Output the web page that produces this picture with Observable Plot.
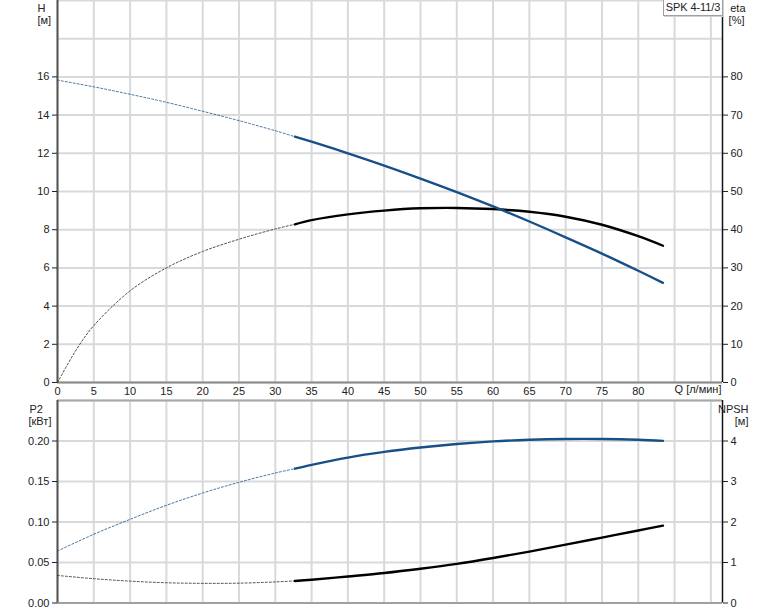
<!DOCTYPE html>
<html><head><meta charset="utf-8">
<script src="https://cdn.jsdelivr.net/npm/d3@7"></script>
<script src="https://cdn.jsdelivr.net/npm/@observablehq/plot@0.6"></script>
<style>
body{margin:0;background:#fff;}
#chart{position:relative;width:774px;height:611px;overflow:hidden;font-family:"Liberation Sans",Arial,sans-serif;}
#chart svg{position:absolute;left:0;}
#model{position:absolute;left:663px;top:-1px;width:58px;height:15px;border:1px solid #a0a0a0;background:#fff;font-size:11px;line-height:15px;text-align:center;color:#222;white-space:nowrap;letter-spacing:-0.1px;box-shadow:1px 1px 0 #d0d0d0;}
</style></head><body>
<div id="chart"><div id="model">SPK 4-11/3</div></div>
<script>
// ---- axes / ticks ----
const qMax = 91.6;
const qTicks = [0,5,10,15,20,25,30,35,40,45,50,55,60,65,70,75,80];
const qGrid = [0,5,10,15,20,25,30,35,40,45,50,55,60,65,70,75,80,85,90];
const hTicks = [0,2,4,6,8,10,12,14,16];
const hGrid = [0,2,4,6,8,10,12,14,16,18,20];
const etaTicks = [0,10,20,30,40,50,60,70,80];
const p2Ticks = [0,0.05,0.10,0.15,0.20];
const p2Grid = [0,0.05,0.10,0.15,0.20,0.25];
const npshTicks = [0,1,2,3,4];

// ---- H curve [m] ----
const hQDot = [0,5,10,15,20,25,30,32.7];
const hDot  = [15.83,15.48,15.09,14.67,14.2,13.71,13.18,12.87];
const hQ    = [32.7,35,40,45,50,55,60,65,70,75,80,83.4];
const hVal  = [12.87,12.61,12.0,11.36,10.68,9.97,9.22,8.43,7.6,6.75,5.85,5.22];

// ---- eta curve [%] ----
const etaQDot = [0,1.5,3,5,10,15,20,25,30,32.7];
const etaDot  = [0,5.1,9.8,14.9,24.0,30.0,34.3,37.5,40.2,41.4];
const etaQ    = [32.7,35,40,45,50,55,60,65,70,75,80,83.4];
const etaVal  = [41.4,42.5,44.0,45.0,45.6,45.7,45.4,44.7,43.4,41.3,38.3,35.8];

// ---- P2 curve [kW] ----
const p2QDot = [0,5,10,15,20,25,30,32.7];
const p2Dot  = [0.0642,0.0848,0.1033,0.1206,0.1358,0.149,0.1605,0.1658];
const p2Q    = [32.7,35,40,45,50,55,60,65,70,75,80,83.4];
const p2Val  = [0.1658,0.1705,0.1795,0.1865,0.192,0.1963,0.1995,0.2015,0.2025,0.2025,0.2015,0.2002];

// ---- NPSH curve [m] ----
const npshQDot = [0,5,10,15,20,25,30,32.7];
const npshDot  = [0.68,0.60,0.54,0.50,0.485,0.49,0.52,0.545];
const npshQ    = [32.7,35,40,45,50,55,60,65,70,75,80,83.4];
const npshVal  = [0.545,0.575,0.655,0.74,0.845,0.965,1.11,1.27,1.44,1.615,1.79,1.91];

const tbl = (qs, vs) => qs.map((q, i) => ({q, v: vs[i]}));

const BLUE = "#175088";
const GRID = "#d7d9db";
const font = {fontFamily: "'Liberation Sans', Arial, sans-serif", fontSize: "11px", color: "#222", background: "transparent", overflow: "visible"};
const solid = (data, stroke, yf) => Plot.line(data, {x: "q", y: yf, stroke, strokeWidth: 2.4, curve: "catmull-rom"});
const dotted = (data, stroke, yf) => Plot.line(data, {x: "q", y: yf, stroke, strokeWidth: 1, strokeDasharray: "2,2", strokeOpacity: 0.8, curve: "catmull-rom"});
const label = (t, anchor, dx, dy) => Plot.text([t], {text: d => d, frameAnchor: anchor, dx, dy, fill: "#222"});

const topPlot = Plot.plot({
  width: 774, height: 400,
  marginLeft: 57, marginRight: 52, marginTop: 0, marginBottom: 18,
  style: font,
  x: {domain: [0, qMax], axis: null},
  y: {domain: [0, 20], axis: null},
  marks: [
    Plot.gridX(qGrid, {stroke: GRID, strokeOpacity: 1, strokeWidth: 2}),
    Plot.gridY(hGrid, {stroke: GRID, strokeOpacity: 1, strokeWidth: 2}),
    Plot.ruleY([0], {stroke: "#8a8a8a", strokeWidth: 2}),
    Plot.ruleX([0], {stroke: "#555", strokeWidth: 2}),
    Plot.ruleX([qMax], {stroke: "#111", strokeWidth: 1.5}),
    dotted(tbl(etaQDot, etaDot), "#222", d => d.v / 5),
    dotted(tbl(hQDot, hDot), BLUE, "v"),
    solid(tbl(etaQ, etaVal), "#000", d => d.v / 5),
    solid(tbl(hQ, hVal), BLUE, "v"),
    Plot.axisX(qTicks, {anchor: "bottom", tickSize: 0, tickPadding: 5, label: null}),
    Plot.axisY(hTicks, {anchor: "left", tickSize: 5, tickPadding: 3, label: null}),
    Plot.axisY(etaTicks.map(e => e / 5), {anchor: "right", tickSize: 5, tickPadding: 3, label: null, tickFormat: d => String(Math.round(d * 5))}),
    label("H", "top-left", -20, 4),
    label("[м]", "top-left", -20, 16),
    label("eta", "top-right", 23, 4),
    label("[%]", "top-right", 22, 16),
    Plot.text(["Q [л/мин]"], {text: d => d, frameAnchor: "bottom-right", textAnchor: "end", dx: -1, dy: 10, fill: "#222"})
  ]
});
topPlot.style.top = "0px";

const botPlot = Plot.plot({
  width: 774, height: 211,
  marginLeft: 57, marginRight: 52, marginTop: 0, marginBottom: 8.5,
  style: font,
  x: {domain: [0, qMax], axis: null},
  y: {domain: [0, 0.25], axis: null},
  marks: [
    Plot.gridX(qGrid, {stroke: GRID, strokeOpacity: 1, strokeWidth: 2}),
    Plot.gridY(p2Grid, {stroke: GRID, strokeOpacity: 1, strokeWidth: 2}),
    Plot.ruleY([0], {stroke: "#a0a0a0", strokeWidth: 2}),
    Plot.ruleY([0.25], {stroke: "#a8a8a8", strokeWidth: 2}),
    Plot.ruleX([0], {stroke: "#555", strokeWidth: 2}),
    Plot.ruleX([qMax], {stroke: "#111", strokeWidth: 1.5}),
    dotted(tbl(npshQDot, npshDot), "#222", d => d.v / 20),
    dotted(tbl(p2QDot, p2Dot), BLUE, "v"),
    solid(tbl(npshQ, npshVal), "#000", d => d.v / 20),
    solid(tbl(p2Q, p2Val), BLUE, "v"),
    Plot.axisY(p2Ticks, {anchor: "left", tickSize: 5, tickPadding: 3, label: null, tickFormat: d3.format(".2f")}),
    Plot.axisY(npshTicks.map(n => n / 20), {anchor: "right", tickSize: 5, tickPadding: 3, label: null, tickFormat: d => String(Math.round(d * 20))}),
    label("P2", "top-left", -28, 5),
    label("[кВт]", "top-left", -29, 17),
    label("NPSH", "top-right", 26, 5),
    label("[м]", "top-right", 26, 17)
  ]
});
botPlot.style.top = "400px";

const chart = document.getElementById("chart");
chart.insertBefore(botPlot, chart.firstChild);
chart.insertBefore(topPlot, chart.firstChild);
</script>
</body></html>
